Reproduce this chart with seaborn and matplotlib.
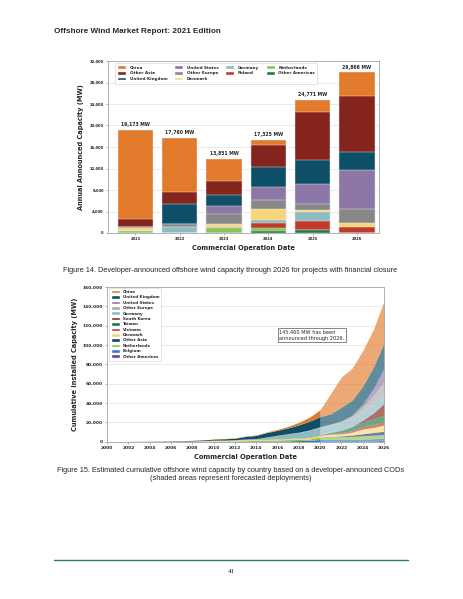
import matplotlib
matplotlib.use("Agg")
import matplotlib.pyplot as plt
from matplotlib.lines import Line2D
from matplotlib.patches import Patch
from matplotlib.ticker import FuncFormatter
import numpy as np
import pandas as pd
import seaborn as sns

# ---- Figure 14: annual announced capacity with financial closure (MW) ----
cod_years = ["2021", "2022", "2023", "2024", "2025", "2026"]
ann_china = [16523, 10090, 4101, 877, 2191, 4386]
ann_other_asia = [1600, 2290, 2600, 4092, 8990, 10350]
ann_uk = [0, 3720, 2150, 3720, 4530, 3410]
ann_us = [0, 0, 1450, 2480, 3660, 7190]
ann_other_europe = [150, 600, 1800, 1740, 1120, 2730]
ann_denmark = [550, 0, 700, 1990, 310, 740]
ann_germany = [0, 1060, 150, 620, 1670, 0]
ann_poland = [0, 0, 0, 870, 1740, 1060]
ann_netherlands = [350, 0, 900, 620, 0, 0]
ann_other_americas = [0, 0, 0, 316, 560, 0]

# ---- Figure 15: cumulative installed capacity by country (MW), 2000-2026 ----
years = np.arange(2000, 2027)
cum_china = [0, 0, 0, 0, 0, 0, 0, 2, 2, 23, 102, 242, 390, 428, 500, 700, 1000, 1500, 2600, 4200, 7000,
             21205, 31237, 33185, 36575, 39005, 43458]
cum_uk = [4, 4, 4, 64, 124, 214, 304, 394, 574, 688, 1000, 1300, 1500, 2600, 3300, 4500, 5000, 6000, 7500, 9000, 10428,
          10428, 14148, 15500, 18500, 22000, 25840]
cum_us = [0, 0, 0, 0, 0, 0, 0, 0, 0, 0, 0, 0, 0, 0, 0, 0, 30, 30, 30, 30, 42,
          42, 100, 500, 3000, 7000, 13700]
cum_other_europe = [10, 20, 20, 45, 70, 70, 70, 140, 140, 170, 200, 220, 230, 240, 250, 260, 290, 330, 380, 470, 620,
                    1000, 1600, 2800, 4500, 8000, 12000]
cum_germany = [0, 0, 0, 0, 0, 0, 0, 0, 12, 72, 132, 188, 268, 300, 500, 2300, 3300, 4500, 5600, 6800, 7689,
               7700, 8000, 8400, 9200, 10300, 10900]
cum_south_korea = [0, 0, 0, 0, 0, 0, 0, 0, 0, 0, 0, 0, 5, 5, 5, 5, 5, 35, 70, 136, 136,
                   150, 300, 600, 2000, 6000, 12000]
cum_taiwan = [0, 0, 0, 0, 0, 0, 0, 0, 0, 0, 0, 0, 0, 0, 0, 0, 0, 8, 8, 128, 128,
              900, 2200, 3500, 4800, 6000, 6900]
cum_vietnam = [0, 0, 0, 0, 0, 0, 0, 0, 0, 0, 0, 0, 0, 16, 16, 16, 99, 99, 99, 150, 300,
               800, 1200, 1700, 2300, 2900, 3400]
cum_denmark = [50, 50, 210, 424, 424, 424, 424, 424, 424, 664, 871, 871, 921, 1271, 1271, 1271, 1271, 1271, 1329, 1703, 1703,
               2253, 2253, 2953, 4943, 5253, 6500]
cum_other_asia = [0, 0, 0, 1, 1, 1, 1, 1, 1, 1, 25, 25, 25, 49, 49, 49, 60, 60, 65, 65, 85,
                  300, 700, 1300, 2000, 2800, 3400]
cum_netherlands = [2, 2, 2, 2, 2, 2, 108, 108, 228, 228, 228, 228, 228, 228, 357, 357, 957, 1118, 1118, 1118, 2611,
                   2960, 3000, 3300, 3600, 3600, 3600]
cum_belgium = [0, 0, 0, 0, 0, 0, 0, 0, 0, 30, 195, 195, 380, 712, 712, 712, 712, 877, 1186, 1556, 2262,
               2262, 2262, 2262, 2262, 2262, 2262]
cum_other_americas = [0, 0, 0, 0, 0, 0, 0, 0, 0, 0, 0, 0, 0, 0, 0, 0, 0, 0, 0, 0, 0,
                      0, 0, 0, 320, 880, 1500]
total_note = "145,460 MW has been\nannounced through 2026."

sns.set_theme(style="whitegrid")
plt.rcParams["font.family"] = ["DejaVu Sans"]

W, H = 463, 599
fig = plt.figure(figsize=(W / 100, H / 100), dpi=100)
fig.patch.set_facecolor("white")


def box(l, t, r, b):
    return [l / W, 1 - b / H, (r - l) / W, (b - t) / H]


def style_axes(ax, size):
    for s in ax.spines.values():
        s.set_color("#a6a6a6")
        s.set_linewidth(0.6)
    ax.grid(axis="y", color="#e2e2e2", linewidth=0.5)
    ax.grid(axis="x", visible=False)
    ax.set_axisbelow(True)
    ax.tick_params(left=True, bottom=True, length=1.5, width=0.4, pad=1.5,
                   labelsize=size, color="#777777")
    ax.yaxis.set_major_formatter(FuncFormatter(lambda v, p: f"{v:,.0f}"))


# ------------------------------ chart 1 -----------------------------------
bar_layers = [  # bottom to top
    ("Other Americas", ann_other_americas, "#1d7a45"),
    ("Netherlands", ann_netherlands, "#87c45b"),
    ("Poland", ann_poland, "#c13b2a"),
    ("Germany", ann_germany, "#8dbbc2"),
    ("Denmark", ann_denmark, "#f6d67b"),
    ("Other Europe", ann_other_europe, "#878787"),
    ("United States", ann_us, "#8c77a6"),
    ("United Kingdom", ann_uk, "#0d4f66"),
    ("Other Asia", ann_other_asia, "#85241d"),
    ("China", ann_china, "#e27a2b"),
]
bars = pd.DataFrame({n: v for n, v, _ in bar_layers}, index=cod_years)
stacked = bars.cumsum(axis=1)

ax1 = fig.add_axes(box(108, 61, 379, 233))
for name, _, color in reversed(bar_layers):
    sns.barplot(x=cod_years, y=stacked[name].values, color=color, saturation=1,
                width=0.8, errorbar=None, linewidth=0.3, edgecolor="#f2f2f2", ax=ax1)

totals = bars.sum(axis=1)
for i, t in enumerate(totals):
    ax1.annotate(f"{t:,} MW", (i, t), xytext=(0, 1.8), textcoords="offset points",
                 ha="center", va="bottom", fontsize=3.3, fontweight="bold")

ax1.set_xlim(-0.62, 5.5)
ax1.set_ylim(0, 32000)
ax1.set_yticks(range(0, 32001, 4000))
style_axes(ax1, 2.7)
ax1.set_xlabel("Commercial Operation Date", fontsize=4.8, fontweight="bold")
ax1.set_ylabel("Annual Announced Capacity (MW)", fontsize=4.8, fontweight="bold")
ax1.xaxis.set_label_coords(0.5, -0.089)
ax1.xaxis.label.set_va("center")
ax1.yaxis.set_label_coords(-0.098, 0.5)
ax1.yaxis.label.set_va("center")
for lab in ax1.get_xticklabels() + ax1.get_yticklabels():
    lab.set_fontweight("bold")

h1 = [Patch(facecolor=c, label=n) for n, _, c in reversed(bar_layers)]
leg1 = ax1.legend(handles=h1, ncol=4, loc="upper left", bbox_to_anchor=(0.025, 0.99),
                  borderaxespad=0, fontsize=3, handlelength=2.2, handleheight=1.0,
                  labelspacing=0.35, columnspacing=1.6, handletextpad=0.8,
                  borderpad=0.6, frameon=True, fancybox=False, framealpha=1)
leg1.get_frame().set_edgecolor("#cfcfcf")
leg1.get_frame().set_linewidth(0.4)
for t in leg1.get_texts():
    t.set_fontweight("bold")

# ------------------------------ chart 2 -----------------------------------
area_layers = [  # bottom to top
    ("Other Americas", cum_other_americas, "#6a3d9a"),
    ("Belgium", cum_belgium, "#2e7fc0"),
    ("Netherlands", cum_netherlands, "#8bc34a"),
    ("Other Asia", cum_other_asia, "#1f3a70"),
    ("Denmark", cum_denmark, "#f6d67b"),
    ("Vietnam", cum_vietnam, "#c13b2a"),
    ("Taiwan", cum_taiwan, "#1d7a45"),
    ("South Korea", cum_south_korea, "#85241d"),
    ("Germany", cum_germany, "#8dbbc2"),
    ("Other Europe", cum_other_europe, "#a9a9a9"),
    ("United States", cum_us, "#8c77a6"),
    ("United Kingdom", cum_uk, "#0d4f66"),
    ("China", cum_china, "#e27a2b"),
]
area = pd.DataFrame({n: v for n, v, _ in area_layers}, index=years)
colors2 = [c for _, _, c in area_layers]
hist = area.loc[:2020]
fcst = area.loc[2020:]

ax2 = fig.add_axes(box(107, 287, 384, 441.7))
ax2.stackplot(hist.index, hist.T.values, colors=colors2, linewidth=0)
ax2.stackplot(fcst.index, fcst.T.values, colors=colors2, linewidth=0, alpha=0.65)
ax2.set_xlim(2000, 2026)
ax2.set_ylim(0, 160000)
ax2.set_xticks(range(2000, 2027, 2))
ax2.set_yticks(range(0, 160001, 20000))
style_axes(ax2, 3.2)
ax2.set_xlabel("Commercial Operation Date", fontsize=4.8, fontweight="bold")
ax2.set_ylabel("Cumulative Installed Capacity (MW)", fontsize=4.8, fontweight="bold")
ax2.xaxis.set_label_coords(0.5, -0.101)
ax2.xaxis.label.set_va("center")
ax2.yaxis.set_label_coords(-0.116, 0.5)
ax2.yaxis.label.set_va("center")
for lab in ax2.get_xticklabels() + ax2.get_yticklabels():
    lab.set_fontweight("bold")

h2 = [Patch(facecolor=c, label=n) for n, _, c in reversed(area_layers)]
leg2 = ax2.legend(handles=h2, ncol=1, loc="upper left", bbox_to_anchor=(0.006, 0.995),
                  borderaxespad=0, fontsize=2.9, handlelength=2.2, handleheight=1.0,
                  labelspacing=0.3, handletextpad=0.8, borderpad=0.5,
                  frameon=True, fancybox=False, framealpha=1)
leg2.get_frame().set_edgecolor("#cfcfcf")
leg2.get_frame().set_linewidth(0.4)
for t in leg2.get_texts():
    t.set_fontweight("bold")

ax2.text(2016.15, 110000, total_note, fontsize=3.6, ha="left", va="center",
         bbox=dict(boxstyle="square,pad=0.3", facecolor="white", edgecolor="#555555", linewidth=0.5))

# ------------------------------ page text ---------------------------------
fig.text(54 / W, 1 - 31.5 / H, "Offshore Wind Market Report: 2021 Edition",
         family="Liberation Sans", fontsize=5.9, fontweight="bold", ha="left", va="center")
fig.text(230.5 / W, 1 - 270 / H,
         "Figure 14. Developer-announced offshore wind capacity through 2026 for projects with financial closure",
         family="Liberation Sans", fontsize=5.3, ha="center", va="center")
fig.text(231 / W, 1 - 470.5 / H,
         "Figure 15. Estimated cumulative offshore wind capacity by country based on a developer-announced CODs",
         family="Liberation Sans", fontsize=5.3, ha="center", va="center")
fig.text(231 / W, 1 - 478.5 / H, "(shaded areas represent forecasted deployments)",
         family="Liberation Sans", fontsize=5.3, ha="center", va="center")
fig.add_artist(Line2D([54 / W, 408 / W], [1 - 560 / H, 1 - 560 / H], color="#2e7d5b", linewidth=1.0))
fig.text(231 / W, 1 - 571.5 / H, "41", family="Liberation Serif", fontsize=5.2, ha="center", va="center")

fig.savefig("out.png", dpi=100)
